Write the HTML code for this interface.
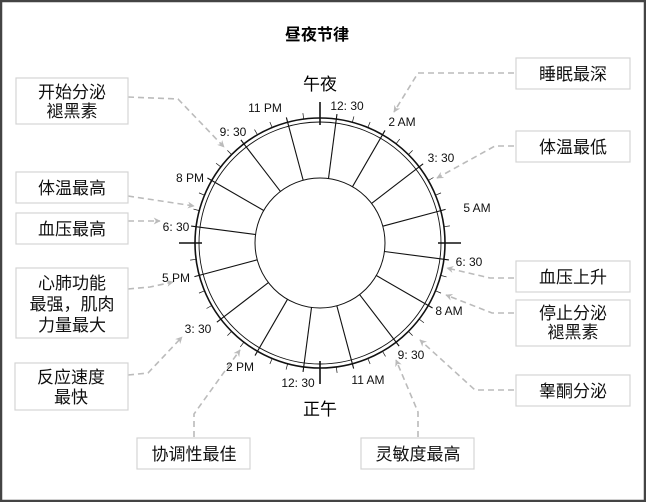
<!DOCTYPE html>
<html><head><meta charset="utf-8"><style>
body{margin:0;background:#fff;}
svg{display:block;font-family:"Liberation Sans","Noto Sans CJK SC",sans-serif;}
.b{fill:#fff;stroke:#d4d4d4;stroke-width:1.2}
.t{font-size:17px;fill:#111;text-anchor:middle}
.s{font-size:12px;fill:#111;text-anchor:middle}
.d{fill:none;stroke:#bbb;stroke-width:1.6;stroke-dasharray:6,4;marker-end:url(#a)}
</style></head><body>
<svg width="646" height="502" viewBox="0 0 646 502">
<defs><marker id="a" viewBox="0 0 10 10" refX="9" refY="5" markerWidth="7" markerHeight="7" orient="auto" markerUnits="userSpaceOnUse"><path d="M0,0L10,5L0,10L3,5z" fill="#bbb"/></marker></defs>
<rect x="1" y="1" width="644" height="500" fill="#fff" stroke="#444" stroke-width="2.5"/>
<text x="317" y="40" style="font-size:16px;font-weight:bold;text-anchor:middle">昼夜节律</text>
<g id="wheel" stroke="#111" fill="none">
<circle cx="320" cy="243" r="125" stroke-width="1.6"/>
<circle cx="320" cy="243" r="121" stroke-width="0.9"/>
<circle cx="320" cy="243" r="65" stroke-width="1"/>
</g>
<g>
<path class="d" d="M128,97 L178,99 L224,147"/>
<path class="d" d="M128,196 L194,206"/>
<path class="d" d="M128,221 L160,221"/>
<path class="d" d="M128,289 L150,287 L173,282"/>
<path class="d" d="M128,375 L148,373 L182,337"/>
<path class="d" d="M194,437 L194,414 L240,350"/>
<path class="d" d="M418,437 L418,412 L396,360"/>
<path class="d" d="M514,390 L475,390 L420,340"/>
<path class="d" d="M514,313 L492,313 L446,295"/>
<path class="d" d="M514,278 L490,278 L447,268"/>
<path class="d" d="M514,146 L495,146 L437,178"/>
<path class="d" d="M514,73 L418,73 L394,112"/>
</g>
<rect class="b" x="16" y="78" width="112" height="46"/>
<text class="t" x="72" y="98">开始分泌</text><text class="t" x="72" y="117">褪黑素</text>
<rect class="b" x="16" y="172" width="112" height="31"/><text class="t" x="72" y="194">体温最高</text>
<rect class="b" x="16" y="213" width="112" height="31"/><text class="t" x="72" y="235">血压最高</text>
<rect class="b" x="16" y="268" width="112" height="70"/>
<text class="t" x="72" y="289">心肺功能</text><text class="t" x="72" y="310">最强，肌肉</text><text class="t" x="72" y="331">力量最大</text>
<rect class="b" x="15" y="363" width="113" height="47"/>
<text class="t" x="71" y="383">反应速度</text><text class="t" x="71" y="403">最快</text>
<rect class="b" x="137" y="438" width="113" height="31"/><text class="t" x="194" y="460">协调性最佳</text>
<rect class="b" x="361" y="438" width="113" height="31"/><text class="t" x="418" y="460">灵敏度最高</text>
<rect class="b" x="516" y="58" width="114" height="31"/><text class="t" x="573" y="80">睡眠最深</text>
<rect class="b" x="516" y="131" width="114" height="31"/><text class="t" x="573" y="153">体温最低</text>
<rect class="b" x="516" y="261" width="114" height="31"/><text class="t" x="573" y="283">血压上升</text>
<rect class="b" x="516" y="300" width="114" height="46"/>
<text class="t" x="573" y="319">停止分泌</text><text class="t" x="573" y="338">褪黑素</text>
<rect class="b" x="516" y="375" width="114" height="31"/><text class="t" x="573" y="397">睾酮分泌</text>
<text x="320" y="90" style="font-size:17px;text-anchor:middle">午夜</text>
<text x="320" y="415" style="font-size:17px;text-anchor:middle">正午</text>
<text class="s" x="347" y="110">12: 30</text>
<text class="s" x="265" y="112">11 PM</text>
<text class="s" x="402" y="126">2 AM</text>
<text class="s" x="233" y="136">9: 30</text>
<text class="s" x="441" y="162">3: 30</text>
<text class="s" x="190" y="182">8 PM</text>
<text class="s" x="477" y="212">5 AM</text>
<text class="s" x="176" y="231">6: 30</text>
<text class="s" x="469" y="266">6: 30</text>
<text class="s" x="176" y="282">5 PM</text>
<text class="s" x="449" y="315">8 AM</text>
<text class="s" x="198" y="333">3: 30</text>
<text class="s" x="411" y="359">9: 30</text>
<text class="s" x="240" y="371">2 PM</text>
<text class="s" x="298" y="387">12: 30</text>
<text class="s" x="368" y="384">11 AM</text>
</svg>
<script>
(function(){
var g=document.getElementById('wheel'),ns='http://www.w3.org/2000/svg',cx=320,cy=243;
function L(a,r1,r2,w){var t=a*Math.PI/180,s=Math.sin(t),c=-Math.cos(t);var l=document.createElementNS(ns,'line');
l.setAttribute('x1',cx+r1*s);l.setAttribute('y1',cy+r1*c);l.setAttribute('x2',cx+r2*s);l.setAttribute('y2',cy+r2*c);l.setAttribute('stroke-width',w);g.appendChild(l);}
for(var k=0;k<16;k++)L(7.5+22.5*k,65,130,1.1);
for(var k=0;k<48;k++){var a=k*7.5;if(a%90==0)L(a,118,141,1.6);else if((a-7.5)%22.5!=0)L(a,125,131,0.7);}
})();
</script>
</body></html>
